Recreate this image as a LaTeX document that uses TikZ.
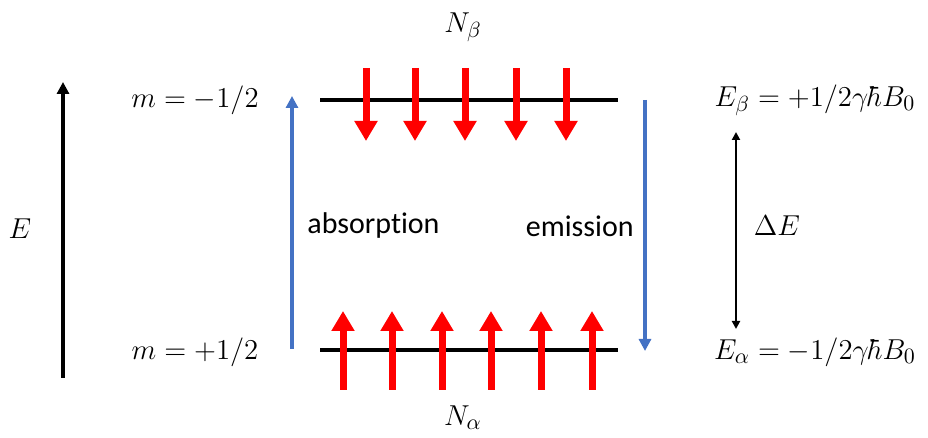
\documentclass[tikz,border=0pt]{standalone}
\usepackage{fontspec}
\setmainfont{Carlito}[Ligatures=NoCommon]
\usepackage{amsmath}
\usetikzlibrary{arrows.meta}
\definecolor{nivelazul}{HTML}{4472C4}
\definecolor{espinrojo}{HTML}{FF0000}
\tikzset{
  etiq/.style     = {font=\fontsize{15}{18}\selectfont, inner sep=1pt},
  nivel/.style    = {line width=2pt},
  ejeE/.style     = {-{Triangle[width=6pt,length=6pt]}, line width=2pt},
  transicion/.style = {-{Triangle[width=6pt,length=6pt]}, line width=2pt, nivelazul},
  espin/.style    = {-{Triangle[width=11pt,length=10pt]}, line width=3.5pt, espinrojo},
  deltaE/.style   = {{Triangle[width=4pt,length=4pt]}-{Triangle[width=4pt,length=4pt]}, line width=1pt},
}

\begin{document}
\begin{tikzpicture}[x=0.5pt, y=-0.5pt]
  \useasboundingbox (0,0) rectangle (928,438);
  % niveles de energia
  \coordinate (b1) at (320,100); \coordinate (b2) at (618,100);
  \coordinate (a1) at (320,350); \coordinate (a2) at (618,350);
  \draw[nivel] (b1) -- (b2);
  \draw[nivel] (a1) -- (a2);
  % eje de energia
  \coordinate (e0) at (63,378); \coordinate (e1) at (63,82);
  \draw[ejeE] (e0) -- (e1);
  \node[etiq] (lE) at (20,229) {$E$};
  \node[etiq] (mb) at (195,100) {$m=-1/2$};
  \node[etiq] (ma) at (195,352) {$m=+1/2$};
  \node[etiq] (Nb) at (463,27) {$N_\beta$};
  \node[etiq] (Na) at (463,418) {$N_\alpha$};
  % transiciones
  \coordinate (abs0) at (292,349); \coordinate (abs1) at (292,96);
  \coordinate (emi0) at (645,100); \coordinate (emi1) at (645,351);
  \draw[transicion] (abs0) -- (abs1);
  \draw[transicion] (emi0) -- (emi1);
  \node[etiq, anchor=west] (labs) at (305,226) {absorption};
  \node[etiq, anchor=east] (lemi) at (636,226) {emission};
  % espines
  \foreach \x in {366,415,465,516,566}
    \draw[espin] (\x,68) -- (\x,141);
  \foreach \x in {343,392,442,491,541,592}
    \draw[espin] (\x,390) -- (\x,311);
  % energias
  \node[etiq] (Eb) at (815,100) {$E_\beta=+1/2\gamma\hbar B_0$};
  \node[etiq] (Ea) at (815,352) {$E_\alpha=-1/2\gamma\hbar B_0$};
  \coordinate (d0) at (736,132); \coordinate (d1) at (736,329);
  \draw[deltaE] (d0) -- (d1);
  \node[etiq] (dE) at (777,226) {$\Delta E$};
\end{tikzpicture}
\end{document}
